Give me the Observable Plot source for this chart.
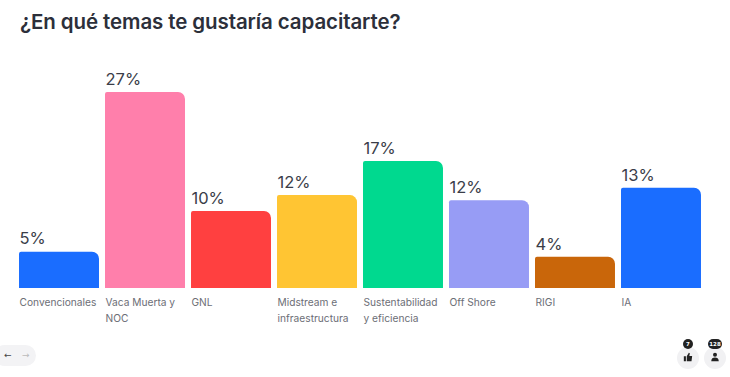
<!DOCTYPE html>
<html><head><meta charset="utf-8">
<script src="https://cdn.jsdelivr.net/npm/d3@7"></script>
<script src="https://cdn.jsdelivr.net/npm/@observablehq/plot@0.6"></script>
<style>
html,body{margin:0;padding:0;background:#fff;width:730px;height:377px;overflow:hidden;position:relative}
h1{margin:0;height:40px;box-sizing:border-box;padding:6px 0 0 20px;font:600 20.5px/32px Inter,sans-serif;color:#2c2f3a;white-space:nowrap;letter-spacing:-.1px}
#chart svg{display:block}
.pill{position:absolute;left:-6px;top:345px;width:42px;height:21px;border-radius:11px;background:#f3f3f5;font:9px/21px "DejaVu Sans";color:#444}
.pill span{position:absolute;top:0}
.c{position:absolute;top:347px;width:22px;height:22px;border-radius:50%;background:#f1f1f3}
.b{position:absolute;top:339px;height:10px;border-radius:5px;background:#222;color:#fff;font:700 5.5px/10px "DejaVu Sans";text-align:center}
.i{position:absolute;top:352px;font:11px/12px "DejaVu Sans";color:#222;text-align:center}
</style></head><body>
<h1>¿En qué temas te gustaría capacitarte?</h1>
<div id="chart"></div>
<div class="pill"><span style="left:10px">←</span><span style="left:28px;color:#bbb">→</span></div>
<div class="c" style="left:677px"></div><div class="c" style="left:704px"></div>
<div class="b" style="left:683px;width:10px">7</div><div class="b" style="left:708px;width:14px">128</div>
<svg class="i" style="left:683px;width:10px;height:10px" viewBox="0 0 12 12"><path fill="#222" d="M1 5h2.5v6H1zM4.5 5l2.5-4 1.2.6-.6 3.2H11l-.8 6.200H4.500z"/></svg>
<svg class="i" style="left:710px;width:10px;height:10px" viewBox="0 0 12 12"><circle cx="6" cy="3.200" r="2.400" fill="#222"/><path fill="#222" d="M1.500 11c0-3.500 2-4.500 4.500-4.500s4.500 1 4.500 4.500z"/></svg>
<script>
const categories = ["Convencionales","Vaca Muerta y\nNOC","GNL","Midstream e\ninfraestructura","Sustentabilidad\ny eficiencia","Off Shore","RIGI","IA"];
const values = [5,27,10.6,12.8,17.5,12.1,4.3,13.8];
const labels = ["5%","27%","10%","12%","17%","12%","4%","13%"];
const colors = ["#1a6dff","#ff7fab","#ff4040","#ffc533","#00d98f","#979cf5","#c9660a","#1a6dff"];
const rows = categories.map((c,i)=>({c,v:values[i],l:labels[i],k:colors[i]}));
const plot = Plot.plot({
  width:730,height:337,
  marginLeft:13,marginRight:23,marginTop:52,marginBottom:89,
  style:{background:"transparent",overflow:"visible"},
  x:{domain:categories,padding:0.07,round:false,label:null},
  y:{domain:[0,27],axis:null},
  marks:[
    Plot.axisX({tickSize:0,tickPadding:7,textAnchor:"start",dx:-40,fontSize:10.2,fill:"#6c6e76",lineHeight:1.5,fontFamily:"Inter, sans-serif",label:null,lineWidth:20}),
    Plot.barY(rows,{x:"c",y:"v",fill:d=>d.k,rx1y1:2,rx2y1:7}),
    Plot.text(rows,{x:"c",y:"v",text:"l",textAnchor:"start",dx:-40,dy:-13,fontSize:16.5,fill:"#3a3d48",fontFamily:"Inter, sans-serif"})
  ]
});
document.getElementById("chart").appendChild(plot);
</script>
</body></html>
